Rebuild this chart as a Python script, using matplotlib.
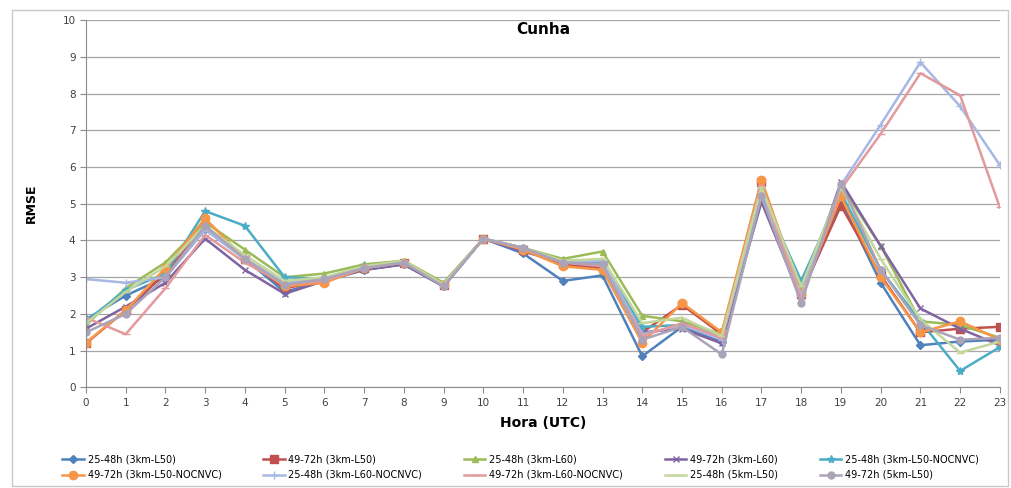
import numpy as np
import matplotlib.pyplot as plt
from matplotlib.patches import Rectangle

hours = list(range(24))

labels = [
    "25-48h (3km-L50)",
    "49-72h (3km-L50)",
    "25-48h (3km-L60)",
    "49-72h (3km-L60)",
    "25-48h (3km-L50-NOCNVC)",
    "49-72h (3km-L50-NOCNVC)",
    "25-48h (3km-L60-NOCNVC)",
    "49-72h (3km-L60-NOCNVC)",
    "25-48h (5km-L50)",
    "49-72h (5km-L50)",
]

# RMSE por hora
s_25_l50 = [1.85, 2.5, 3.0, 4.3, 3.5, 2.6, 2.9, 3.2, 3.35, 2.75, 4.05, 3.65, 2.9, 3.05,
            0.85, 1.65, 1.25, 5.1, 2.5, 5.1, 2.85, 1.15, 1.25, 1.3]
s_49_l50 = [1.2, 2.1, 3.1, 4.4, 3.5, 2.7, 2.9, 3.25, 3.4, 2.8, 4.05, 3.75, 3.35, 3.25,
            1.5, 2.25, 1.45, 5.6, 2.55, 4.95, 3.05, 1.5, 1.6, 1.65]
s_25_l60 = [1.7, 2.7, 3.4, 4.5, 3.75, 3.0, 3.1, 3.35, 3.45, 2.85, 4.05, 3.8, 3.5, 3.7,
            1.95, 1.8, 1.45, 5.5, 2.7, 5.5, 3.85, 1.8, 1.7, 1.35]
s_49_l60 = [1.6, 2.2, 2.85, 4.05, 3.2, 2.55, 2.9, 3.2, 3.35, 2.75, 4.05, 3.7, 3.4, 3.3,
            1.5, 1.6, 1.2, 5.05, 2.4, 5.6, 3.85, 2.15, 1.6, 1.15]
s_25_l50_nc = [1.8, 2.65, 3.1, 4.8, 4.4, 3.0, 2.95, 3.3, 3.4, 2.8, 4.05, 3.8, 3.4, 3.4,
               1.65, 1.7, 1.4, 5.3, 2.9, 5.3, 3.2, 1.8, 0.45, 1.1]
s_49_l50_nc = [1.22, 2.1, 3.25, 4.6, 3.5, 2.75, 2.85, 3.25, 3.4, 2.8, 4.05, 3.75, 3.3, 3.2,
               1.22, 2.3, 1.5, 5.65, 2.55, 5.2, 3.0, 1.5, 1.8, 1.3]
s_25_l60_nc = [2.95, 2.85, 3.0, 4.3, 3.5, 2.85, 2.95, 3.25, 3.4, 2.8, 4.05, 3.8, 3.4, 3.45,
               1.45, 1.7, 1.3, 5.4, 2.5, 5.5, 7.15, 8.85, 7.65, 6.05]
s_49_l60_nc = [1.9, 1.45, 2.7, 4.15, 3.4, 2.8, 2.9, 3.25, 3.4, 2.8, 4.05, 3.8, 3.4, 3.3,
               1.4, 1.75, 1.35, 5.5, 2.4, 5.4, 6.9, 8.55, 7.95, 4.9]
s_25_5km = [1.75, 2.6, 3.3, 4.4, 3.6, 2.9, 3.0, 3.3, 3.45, 2.8, 4.05, 3.8, 3.45, 3.5,
            1.75, 1.9, 1.4, 5.45, 2.75, 5.45, 3.5, 1.85, 0.95, 1.25]
s_49_5km = [1.5, 2.0, 3.0, 4.4, 3.5, 2.8, 2.95, 3.25, 3.4, 2.75, 4.05, 3.8, 3.4, 3.35,
            1.3, 1.65, 0.9, 5.2, 2.3, 5.55, 3.2, 1.7, 1.3, 1.35]

series = [s_25_l50, s_49_l50, s_25_l60, s_49_l60, s_25_l50_nc,
          s_49_l50_nc, s_25_l60_nc, s_49_l60_nc, s_25_5km, s_49_5km]

colors = ["#4F81BD", "#C0504D", "#9BBB59", "#8064A2", "#4BACC6",
          "#F79646", "#A7B8E4", "#E39A9C", "#C3D69B", "#ABA3B8"]
markers = ["D", "s", "^", "x", "*", "o", "+", "_", "_", "o"]
msizes = [4, 6, 5, 5, 6, 6, 6, 6, 6, 5]

fig = plt.figure(figsize=(10.11, 4.88), dpi=100)
ax = fig.add_axes([0.085, 0.206, 0.904, 0.753])

lines = []
for vals, lab, c, m, ms in zip(series, labels, colors, markers, msizes):
    ln, = ax.plot(hours, vals, color=c, marker=m, markersize=ms, linewidth=1.8,
                  markeredgecolor=c, label=lab)
    lines.append(ln)

ax.set_xlim(0, 23)
ax.set_ylim(0, 10)
ax.set_xticks(hours)
ax.set_yticks(range(11))
ax.grid(axis="y", color="#A6A6A6", linewidth=0.9)
ax.set_axisbelow(True)
for side in ["top", "right"]:
    ax.spines[side].set_visible(False)
ax.spines["left"].set_color("#8C8C8C")
ax.spines["bottom"].set_color("#8C8C8C")
ax.tick_params(axis="both", labelsize=7.5, colors="#404040", length=4, color="#8C8C8C")

ax.set_title("Cunha", fontsize=11, fontweight="bold", y=0.94)
ax.set_xlabel("Hora (UTC)", fontsize=10, fontweight="bold", labelpad=6)
ax.set_ylabel("RMSE", fontsize=9, fontweight="bold", labelpad=18)

# legenda preenchida por linhas (como no Excel)
order = [0, 5, 1, 6, 2, 7, 3, 8, 4, 9]
fig.legend([lines[i] for i in order], [labels[i] for i in order],
           loc="center", bbox_to_anchor=(0.515, 0.043), ncol=5, fontsize=7,
           frameon=False, handlelength=2.2, columnspacing=4.3, labelspacing=0.6,
           handletextpad=0.4)

fig.patches.append(Rectangle((0.012, 0.005), 0.985, 0.975, transform=fig.transFigure,
                             fill=False, edgecolor="#C8C8C8", linewidth=1))

fig.savefig("out.png", dpi=100)
